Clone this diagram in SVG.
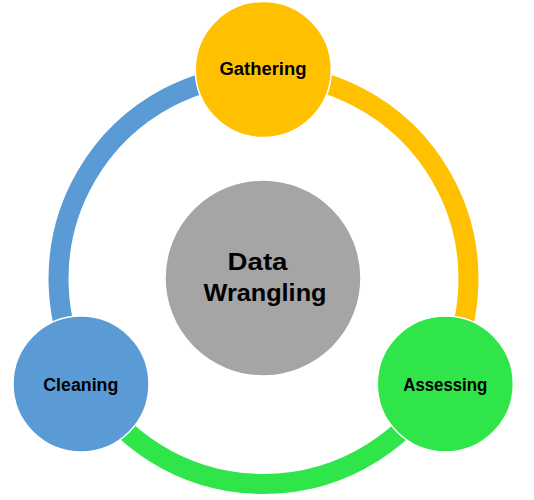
<svg xmlns="http://www.w3.org/2000/svg" width="534" height="500" viewBox="0 0 534 500">
  <style>
    .ring { fill: none; stroke-width: 20; stroke-linecap: butt; }
    .node { stroke: #ffffff; stroke-width: 1.5; }
    .label { font-family: "Liberation Sans", Arial, sans-serif; font-weight: bold; fill: #000000; text-anchor: middle; }
    .small { font-size: 18px; }
    .big { font-size: 24px; }
  </style>
  <rect width="534" height="500" fill="#ffffff"/>

  <!-- cycle ring: one 120-degree segment leaving each stage -->
  <g id="connectors">
    <path class="ring" stroke="#5B9BD5" d="M 86 381.5 A 205 205 0 0 1 263.5 74"/>
    <path class="ring" stroke="#FFC000" d="M 263.5 74 A 205 205 0 0 1 441 381.5"/>
    <path class="ring" stroke="#30E54A" d="M 441 381.5 A 205 205 0 0 1 86 381.5"/>
  </g>

  <g id="center">
    <circle class="node" cx="263" cy="278" r="98" fill="#A5A5A5"/>
    <text class="label big" x="257.5" y="270" textLength="60" lengthAdjust="spacingAndGlyphs">Data</text>
    <text class="label big" x="265" y="300.5" textLength="123" lengthAdjust="spacingAndGlyphs">Wrangling</text>
  </g>

  <g id="gathering">
    <circle class="node" cx="263.3" cy="69.5" r="68" fill="#FFC000"/>
    <text class="label small" x="263" y="75" textLength="87" lengthAdjust="spacingAndGlyphs">Gathering</text>
  </g>

  <g id="assessing">
    <circle class="node" cx="445.3" cy="384" r="68" fill="#30E54A"/>
    <text class="label small" x="445.3" y="390.7" textLength="84" lengthAdjust="spacingAndGlyphs">Assessing</text>
  </g>

  <g id="cleaning">
    <circle class="node" cx="81" cy="384" r="68" fill="#5B9BD5"/>
    <text class="label small" x="80.8" y="390.7" textLength="75" lengthAdjust="spacingAndGlyphs">Cleaning</text>
  </g>
</svg>
